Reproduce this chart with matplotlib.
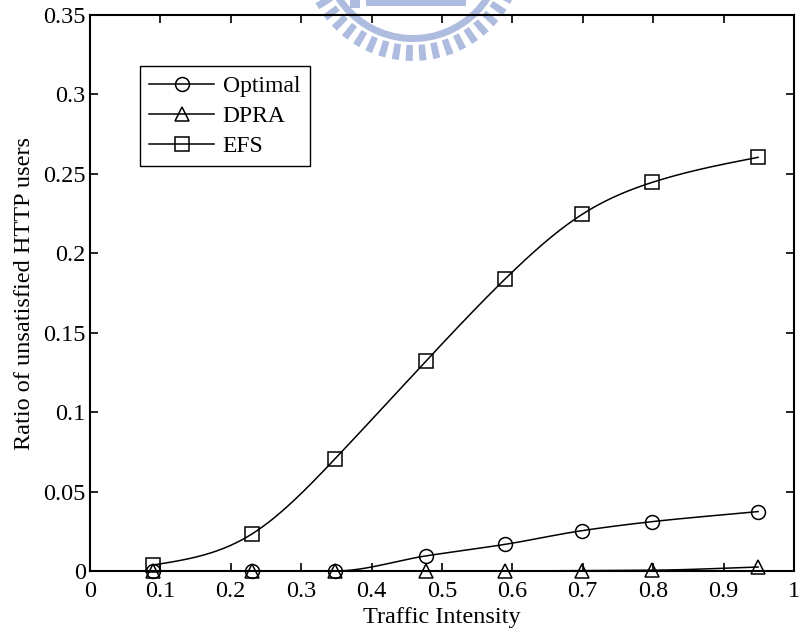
import numpy as np
import matplotlib
matplotlib.use("Agg")
import matplotlib.pyplot as plt
from matplotlib.lines import Line2D
from matplotlib.patches import Wedge, Rectangle, Polygon

traffic = [0.09, 0.23, 0.348, 0.477, 0.59, 0.699, 0.799, 0.949]
optimal = [0.0, 0.0, 0.0, 0.0095, 0.0168, 0.0254, 0.0311, 0.0374]
dpra = [0.0, 0.0, 0.0, 0.0, 0.0, 0.0003, 0.0005, 0.0025]
efs = [0.0038, 0.0233, 0.0706, 0.132, 0.184, 0.2245, 0.2447, 0.2604]
series_names = ["Optimal", "DPRA", "EFS"]
xticks = [0, 0.1, 0.2, 0.3, 0.4, 0.5, 0.6, 0.7, 0.8, 0.9, 1]
xtick_labels = ["0", "0.1", "0.2", "0.3", "0.4", "0.5", "0.6", "0.7", "0.8", "0.9", "1"]
yticks = [0, 0.05, 0.1, 0.15, 0.2, 0.25, 0.3, 0.35]
ytick_labels = ["0", "0.05", "0.1", "0.15", "0.2", "0.25", "0.3", "0.35"]


def pchip(x, y, xs):
    x = np.asarray(x, float); y = np.asarray(y, float)
    h = np.diff(x); d = np.diff(y) / h
    n = len(x); m = np.zeros(n)
    for k in range(1, n - 1):
        if d[k - 1] * d[k] > 0:
            w1 = 2 * h[k] + h[k - 1]; w2 = h[k] + 2 * h[k - 1]
            m[k] = (w1 + w2) / (w1 / d[k - 1] + w2 / d[k])
    m[0] = d[0]; m[-1] = d[-1]
    idx = np.clip(np.searchsorted(x, xs) - 1, 0, n - 2)
    t = (xs - x[idx]) / h[idx]
    h00 = 2 * t**3 - 3 * t**2 + 1; h10 = t**3 - 2 * t**2 + t
    h01 = -2 * t**3 + 3 * t**2; h11 = t**3 - t**2
    return h00 * y[idx] + h10 * h[idx] * m[idx] + h01 * y[idx + 1] + h11 * h[idx] * m[idx + 1]


def natural_spline(x, y, xs):
    x = np.asarray(x, float); y = np.asarray(y, float)
    n = len(x); h = np.diff(x)
    A = np.zeros((n, n)); b = np.zeros(n)
    A[0, 0] = 1; A[-1, -1] = 1
    for i in range(1, n - 1):
        A[i, i - 1] = h[i - 1]; A[i, i] = 2 * (h[i - 1] + h[i]); A[i, i + 1] = h[i]
        b[i] = 3 * ((y[i + 1] - y[i]) / h[i] - (y[i] - y[i - 1]) / h[i - 1])
    c = np.linalg.solve(A, b)
    bb = (y[1:] - y[:-1]) / h - h * (2 * c[:-1] + c[1:]) / 3
    dd = (c[1:] - c[:-1]) / (3 * h)
    idx = np.clip(np.searchsorted(x, xs) - 1, 0, n - 2)
    t = xs - x[idx]
    return y[idx] + bb[idx] * t + c[idx] * t**2 + dd[idx] * t**3


plt.rcParams['font.family'] = 'Liberation Serif'
fig = plt.figure(figsize=(7.99, 6.30), dpi=100)

# faint watermark logo in the background
bg = fig.add_axes([0, 0, 1, 1], zorder=0)
bg.set_xlim(0, 799); bg.set_ylim(630, 0); bg.axis('off')
logo_c = '#aebcdf'
cx, cy = 413, -50
bg.add_patch(Wedge((cx, cy), 92, 0, 360, width=7, color=logo_c, lw=0))
for ang in np.arange(20, 165, 7.2):
    a = np.deg2rad(ang)
    r1, r2, w = 95, 111, 0.034
    pts = [(cx + r1 * np.cos(a - w), cy + r1 * np.sin(a - w)),
           (cx + r2 * np.cos(a - w * 0.95), cy + r2 * np.sin(a - w * 0.95)),
           (cx + r2 * np.cos(a + w * 0.95), cy + r2 * np.sin(a + w * 0.95)),
           (cx + r1 * np.cos(a + w), cy + r1 * np.sin(a + w))]
    bg.add_patch(Polygon(pts, closed=True, color=logo_c, lw=0))
bg.add_patch(Rectangle((366, 0), 100, 6, color=logo_c, lw=0))
bg.add_patch(Rectangle((350, 0), 10, 8, color=logo_c, lw=0))

ax = fig.add_axes([90 / 799, 1 - 571 / 630, 704 / 799, 556 / 630], zorder=1)
ax.set_facecolor('none')

xs = np.linspace(traffic[0], traffic[-1], 500)
curves = [pchip(traffic, optimal, xs), pchip(traffic, dpra, xs), natural_spline(traffic, efs, xs)]
markers = ['o', '^', 's']
for vals, cur, mk in zip([optimal, dpra, efs], curves, markers):
    ax.plot(xs, np.maximum(cur, 0), color='black', lw=1.1, clip_on=False)
    ax.plot(traffic, vals, linestyle='none', marker=mk, markersize=10, mfc='none',
            mec='black', mew=1.1, clip_on=False)

handles = [Line2D([], [], color='black', lw=1.1, marker=mk, markersize=10, mfc='none',
                  mec='black', mew=1.1) for mk in markers]
leg = ax.legend(handles, series_names, loc='upper left',
                bbox_to_anchor=((140 - 90) / 704, (571 - 66) / 556), fontsize=17,
                fancybox=False, edgecolor='black', framealpha=1, borderpad=0.4,
                handlelength=2.75, handletextpad=0.35, labelspacing=0.36, borderaxespad=0)
leg.get_frame().set_linewidth(1.0)

ax.set_xlim(0, 1)
ax.set_ylim(0, 0.35)
ax.set_xticks(xticks)
ax.set_xticklabels(xtick_labels)
ax.set_yticks(yticks)
ax.set_yticklabels(ytick_labels)
ax.tick_params(direction='in', top=True, right=True, length=6, width=1.2, labelsize=17.5)
ax.tick_params(axis='x', pad=7)
ax.tick_params(axis='y', pad=3)
for s in ax.spines.values():
    s.set_linewidth(1.5)
ax.set_xlabel('Traffic Intensity', fontsize=17.5, labelpad=4)
ax.set_ylabel('Ratio of unsatisfied HTTP users', fontsize=17.5, labelpad=6)

fig.savefig('out.png', dpi=100)
